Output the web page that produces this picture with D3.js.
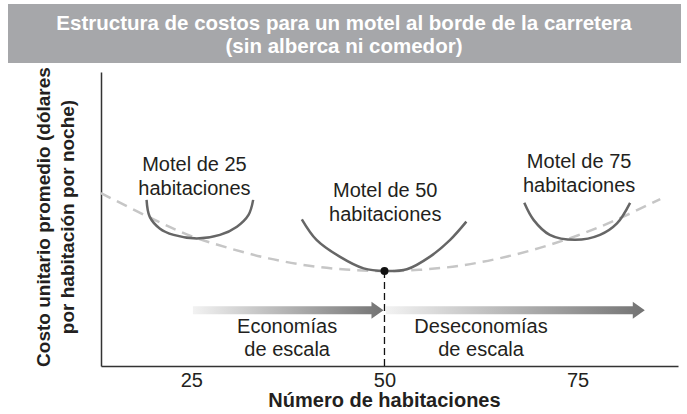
<!DOCTYPE html>
<html>
<head>
<meta charset="utf-8">
<script src="https://cdn.jsdelivr.net/npm/d3@7"></script>
<style>
  body { margin: 0; background: #fff; }
  svg { display: block; font-family: "Liberation Sans", Arial, sans-serif; }
</style>
</head>
<body>
<svg id="chart"></svg>
<script>
// long-run average cost (dashed envelope)
const lracRooms = [13.3, 20, 25, 30, 35, 40, 45, 50, 55, 60, 65, 70, 75, 80, 85.7]
const lracCost = [58.8, 50.0, 44.2, 40.0, 36.6, 34.2, 32.8, 32.3, 32.8, 34.2, 36.7, 40.1, 44.4, 49.7, 56.8]

// short-run curves for each motel size
const srac25Rooms = [19.2, 19.6, 20.9, 22.7, 25.7, 28.7, 30.9, 32.4, 33.0]
const srac25Cost = [56.5, 50.8, 46.8, 44.6, 43.4, 44.6, 47.4, 51.4, 56.5]
const srac50Rooms = [39.3, 41.2, 44.2, 47.3, 50.0, 52.9, 55.9, 58.5, 60.6]
const srac50Cost = [49.9, 42.9, 37.2, 33.2, 32.3, 32.9, 37.2, 42.9, 49.1]
const srac75Rooms = [68.1, 69.3, 71.4, 74.7, 77.9, 80.1, 81.8]
const srac75Cost = [55.5, 49.7, 44.6, 42.9, 44.6, 48.5, 55.5]

const minRooms = 50
const minCost = 32.3

const xTicks = [25, 50, 75]
const title = ['Estructura de costos para un motel al borde de la carretera', '(sin alberca ni comedor)']
const xTitle = 'Número de habitaciones'
const yTitle = ['Costo unitario promedio (dólares', 'por habitación por noche)']

const motelLabels = [
    { rooms: 25.4, cost: 66.3, lines: ['Motel de 25', 'habitaciones'] },
    { rooms: 50.1, cost: 57.5, lines: ['Motel de 50', 'habitaciones'] },
    { rooms: 75.2, cost: 67.3, lines: ['Motel de 75', 'habitaciones'] },
]

const scaleArrows = [
    { from: 25.2, to: 50, cost: 19.0, labelRooms: 37.4, labelCost: 9.5, lines: ['Economías', 'de escala'] },
    { from: 50, to: 83.7, cost: 19.0, labelRooms: 62.5, labelCost: 9.5, lines: ['Deseconomías', 'de escala'] },
]

const width = 687
const height = 414
const textColor = '#231f20'

const svg = d3.select('#chart').attr('width', width).attr('height', height)

const x = d3.scaleLinear().domain([13.3, 88]).range([101, 678])
const y = d3.scaleLinear().domain([0, 100]).range([366, 72])

// title banner
svg.append('rect')
    .attr('x', 8).attr('y', 4)
    .attr('width', 673).attr('height', 59)
    .attr('fill', '#a6a7aa')

svg.append('g')
    .selectAll('text')
    .data(title)
    .enter()
    .append('text')
    .attr('x', 344)
    .attr('y', (d, i) => 30 + i * 23)
    .attr('text-anchor', 'middle')
    .attr('fill', '#fff')
    .style('font-weight', 'bold')
    .style('font-size', '20.5px')
    .text(d => d)

// axes
svg.append('g')
    .attr('transform', 'translate(0,' + y(0) + ')')
    .call(d3.axisBottom(x).tickValues(xTicks).tickSize(0).tickSizeOuter(0).tickPadding(7))
    .call(g => g.select('.domain').attr('stroke', '#333').attr('stroke-width', 1.5))
    .call(g => g.selectAll('text').style('font-size', '20px').attr('fill', textColor))

svg.append('g')
    .attr('transform', 'translate(' + x.range()[0] + ',0)')
    .call(d3.axisLeft(y).tickValues([]).tickSizeOuter(0))
    .call(g => g.select('.domain').attr('stroke', '#333').attr('stroke-width', 1.5))

svg.append('text')
    .attr('x', x(50))
    .attr('y', 407)
    .attr('text-anchor', 'middle')
    .attr('fill', textColor)
    .style('font-weight', 'bold')
    .style('font-size', '20px')
    .text(xTitle)

svg.append('g')
    .attr('transform', 'translate(50,217) rotate(-90)')
    .selectAll('text')
    .data(yTitle)
    .enter()
    .append('text')
    .attr('x', 0)
    .attr('y', (d, i) => i * 24)
    .attr('text-anchor', 'middle')
    .attr('fill', textColor)
    .style('font-weight', 'bold')
    .style('font-size', '19px')
    .text(d => d)

// curves
const line = d3.line()
    .x(d => x(d[0]))
    .y(d => y(d[1]))
    .curve(d3.curveCatmullRom.alpha(0.5))

svg.append('path')
    .datum(d3.zip(lracRooms, lracCost))
    .attr('d', line)
    .attr('fill', 'none')
    .attr('stroke', '#c6c6c6')
    .attr('stroke-width', 2.5)
    .attr('stroke-dasharray', '11,7')

const sracs = [
    d3.zip(srac25Rooms, srac25Cost),
    d3.zip(srac50Rooms, srac50Cost),
    d3.zip(srac75Rooms, srac75Cost),
]

svg.append('g')
    .selectAll('path')
    .data(sracs)
    .enter()
    .append('path')
    .attr('d', line)
    .attr('fill', 'none')
    .attr('stroke', '#666')
    .attr('stroke-width', 2.5)

// min point and dashed drop line
svg.append('line')
    .attr('x1', x(minRooms)).attr('x2', x(minRooms))
    .attr('y1', y(minCost)).attr('y2', y(0))
    .attr('stroke', '#111')
    .attr('stroke-width', 1.3)
    .attr('stroke-dasharray', '7,4')

svg.append('circle')
    .attr('cx', x(minRooms))
    .attr('cy', y(minCost))
    .attr('r', 4)
    .attr('fill', '#111')

// motel labels
motelLabels.forEach(m => {
    svg.append('g')
        .selectAll('text')
        .data(m.lines)
        .enter()
        .append('text')
        .attr('x', x(m.rooms))
        .attr('y', (d, i) => y(m.cost) + i * 24)
        .attr('text-anchor', 'middle')
        .attr('fill', textColor)
        .style('font-size', '20px')
        .text(d => d)
})

// economies / diseconomies arrows
const defs = svg.append('defs')
scaleArrows.forEach((a, i) => {
    const grad = defs.append('linearGradient')
        .attr('id', 'arrowGrad' + i)
        .attr('x1', '0%').attr('x2', '100%')
        .attr('y1', '0%').attr('y2', '0%')
    grad.append('stop').attr('offset', '0%').attr('stop-color', '#f2f2f2')
    grad.append('stop').attr('offset', '100%').attr('stop-color', '#737373')

    const x0 = x(a.from) + (i > 0 ? 1.5 : 0)
    const x1 = x(a.to) - (i === 0 ? 1 : 0)
    const yc = y(a.cost)
    const head = 12
    const pts = [
        [x0, yc - 4], [x1 - head, yc - 4], [x1 - head, yc - 8.5],
        [x1, yc], [x1 - head, yc + 8.5], [x1 - head, yc + 4], [x0, yc + 4],
    ]
    svg.append('path')
        .attr('d', 'M' + pts.join('L') + 'Z')
        .attr('fill', 'url(#arrowGrad' + i + ')')

    svg.append('g')
        .selectAll('text')
        .data(a.lines)
        .enter()
        .append('text')
        .attr('x', x(a.labelRooms))
        .attr('y', (d, j) => y(a.labelCost) + j * 23 - 5)
        .attr('text-anchor', 'middle')
        .attr('fill', textColor)
        .style('font-size', '20px')
        .text(d => d)
})
</script>
</body>
</html>
